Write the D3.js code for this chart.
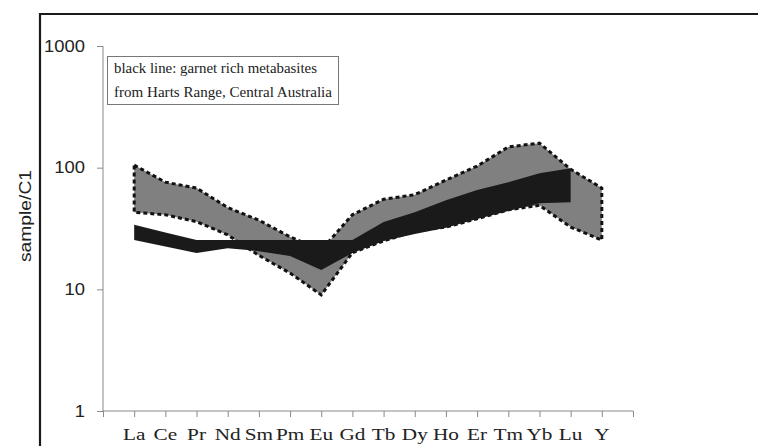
<!DOCTYPE html>
<html lang="en">
<head>
    <meta charset="UTF-8">
    <title>REE spider diagram</title>
    <style>
        body { margin: 0; background: #fff; }
    </style>
</head>
<body>
    <div class="chart"></div>

    <script src="https://d3js.org/d3.v7.min.js"></script>
    <script>
        var width = 758
        var height = 446

        // chondrite normalised values
        var elements = ["La", "Ce", "Pr", "Nd", "Sm", "Pm", "Eu", "Gd", "Tb", "Dy", "Ho", "Er", "Tm", "Yb", "Lu", "Y"]
        var rangeHigh = [105, 76, 68, 47, 37, 27, 21, 41, 55, 60, 79, 103, 148, 159, 97, 68]
        var rangeLow = [43, 41, 36, 28, 19, 13.6, 9, 20, 25, 30, 32.5, 38, 45, 49, 32.5, 25.4]
        // black band (garnet rich metabasites), La..Lu
        var blackHigh = [34, 29.3, 25.4, 25.4, 25.4, 25.4, 25.4, 25.4, 35.7, 43, 54, 65.5, 76, 90, 99]
        var blackLow = [25.4, 22.5, 19.9, 21.8, 20.6, 18.8, 14.4, 19.9, 25, 28.5, 32, 37.8, 44, 51, 52]
        var yTicks = [1, 10, 100, 1000]
        var legendLines = ["black line: garnet rich metabasites", "from Harts Range, Central Australia"]

        var svg = d3.select(".chart").append("svg")
            .attr("width", width)
            .attr("height", height)

        svg.append("rect")
            .attr("width", width)
            .attr("height", height)
            .attr("fill", "#fff")

        // outer frame (top + left only visible)
        svg.append("path")
            .attr("d", "M40,446 L40,14 L758,14")
            .attr("fill", "none")
            .attr("stroke", "#1a1a1a")
            .attr("stroke-width", 2.2)

        var x = d3.scaleLinear().domain([0, elements.length + 1]).range([103, 633])
        var y = d3.scaleLog().domain([1, 1000]).range([411, 46])

        // y axis
        var yAxis = svg.append("g")
            .attr("transform", "translate(103,0)")
            .call(d3.axisLeft(y).tickValues(yTicks).tickSize(6).tickFormat(""))
        yAxis.select(".domain").attr("stroke", "#8a8a8a").attr("d", "M0," + y(1000) + "V" + y(1))
        yAxis.selectAll(".tick line").attr("stroke", "#8a8a8a")

        svg.selectAll(".ylab")
            .data(yTicks)
            .enter()
            .append("text")
            .attr("class", "ylab")
            .attr("transform", function(d) { return "translate(85," + y(d) + ") scale(1.15,1)" })
            .attr("dy", "0.36em")
            .attr("text-anchor", "end")
            .style("font-family", "'Liberation Sans', Arial, sans-serif")
            .style("font-size", "16px")
            .attr("fill", "#222")
            .text(function(d) { return d })

        svg.append("text")
            .attr("transform", "translate(31,216) rotate(-90)")
            .attr("text-anchor", "middle")
            .attr("textLength", 92)
            .attr("lengthAdjust", "spacingAndGlyphs")
            .style("font-family", "'Liberation Sans', Arial, sans-serif")
            .style("font-size", "17px")
            .attr("fill", "#222")
            .text("sample/C1")

        // x axis
        var xAxis = svg.append("g")
            .attr("transform", "translate(0,411)")
            .call(d3.axisBottom(x).ticks(elements.length + 1).tickValues(d3.range(elements.length + 2)).tickSize(6).tickFormat(""))
        xAxis.select(".domain").attr("stroke", "#8a8a8a").attr("d", "M103,0H633")
        xAxis.selectAll(".tick line").attr("stroke", "#8a8a8a")

        svg.selectAll(".xlab")
            .data(elements)
            .enter()
            .append("text")
            .attr("class", "xlab")
            .attr("transform", function(d, i) { return "translate(" + x(i + 1) + ",440) scale(1.25,1)" })
            .attr("text-anchor", "middle")
            .style("font-family", "'Liberation Serif', 'Times New Roman', serif")
            .style("font-size", "17px")
            .attr("fill", "#222")
            .text(function(d) { return d })

        // grey range with dotted outline
        var rangeArea = d3.area()
            .x(function(d, i) { return x(i + 1) })
            .y0(function(d, i) { return y(rangeLow[i]) })
            .y1(function(d, i) { return y(rangeHigh[i]) })

        svg.append("path")
            .datum(elements)
            .attr("d", rangeArea)
            .attr("fill", "#808080")
            .attr("stroke", "#111")
            .attr("stroke-width", 3)
            .attr("stroke-dasharray", "4,3")

        // black band on top
        var blackArea = d3.area()
            .x(function(d, i) { return x(i + 1) })
            .y0(function(d, i) { return y(blackLow[i]) })
            .y1(function(d, i) { return y(blackHigh[i]) })

        svg.append("path")
            .datum(blackHigh)
            .attr("d", blackArea)
            .attr("fill", "#1a1a1a")

        // legend box
        svg.append("rect")
            .attr("x", 107.5)
            .attr("y", 56.5)
            .attr("width", 231)
            .attr("height", 48)
            .attr("fill", "#fff")
            .attr("stroke", "#777")
            .attr("stroke-width", 1)

        svg.selectAll(".leg")
            .data(legendLines)
            .enter()
            .append("text")
            .attr("class", "leg")
            .attr("x", 114)
            .attr("y", function(d, i) { return 73 + i * 24 })
            .attr("textLength", function(d, i) { return i == 0 ? 203 : 218 })
            .attr("lengthAdjust", "spacingAndGlyphs")
            .style("font-family", "'Liberation Serif', 'Times New Roman', serif")
            .style("font-size", "14px")
            .attr("fill", "#222")
            .text(function(d) { return d })
    </script>
</body>
</html>
